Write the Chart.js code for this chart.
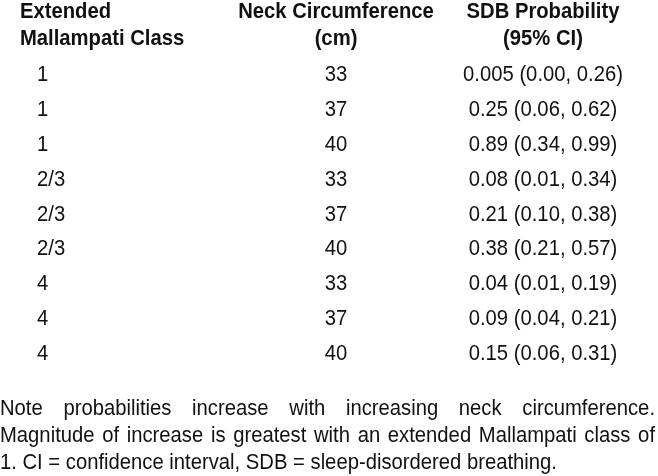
<!DOCTYPE html>
<html>
<head>
<meta charset="utf-8">
<script src="https://cdn.jsdelivr.net/npm/chart.js@4.4.0/dist/chart.umd.min.js"></script>
<style>
  html, body { margin: 0; padding: 0; background: #fff; }
  #wrap { width: 658px; height: 476px; }
</style>
</head>
<body>
<div id="wrap"><canvas id="myChart" width="658" height="476"></canvas></div>
<script>
// table data
const mallampati = ['1', '1', '1', '2/3', '2/3', '2/3', '4', '4', '4'];
const neckCm = [33, 37, 40, 33, 37, 40, 33, 37, 40];
const sdbProb = [0.005, 0.25, 0.89, 0.08, 0.21, 0.38, 0.04, 0.09, 0.15];
const ciLow = [0.00, 0.06, 0.34, 0.01, 0.10, 0.21, 0.01, 0.04, 0.06];
const ciHigh = [0.26, 0.62, 0.99, 0.34, 0.38, 0.57, 0.19, 0.21, 0.31];

const colHeaders = [
    ['Extended', 'Mallampati Class'],
    ['Neck Circumference', '(cm)'],
    ['SDB Probability', '(95% CI)']
];
const noteLines = [
    'Note probabilities increase with increasing neck circumference.',
    'Magnitude of increase is greatest with an extended Mallampati class of',
    '1. CI = confidence interval, SDB = sleep-disordered breathing.'
];

// layout
const FONT = '"Liberation Sans", Arial, sans-serif';
const SQUEEZE = 0.92;
const INK = '#111';

function fmt(v) {
    return v < 0.01 && v > 0 ? v.toFixed(3) : v.toFixed(2);
}

function putText(ctx, text, x, y, align) {
    ctx.save();
    ctx.translate(x, y);
    ctx.scale(SQUEEZE, 1);
    ctx.textAlign = align;
    ctx.fillText(text, 0, 0);
    ctx.restore();
}

function putJustified(ctx, text, x, y, width) {
    const words = text.split(' ');
    const full = width / SQUEEZE;
    let used = 0;
    words.forEach(w => { used += ctx.measureText(w).width; });
    const gap = (full - used) / (words.length - 1);
    ctx.save();
    ctx.translate(x, y);
    ctx.scale(SQUEEZE, 1);
    ctx.textAlign = 'left';
    let cx = 0;
    words.forEach(w => {
        ctx.fillText(w, cx, 0);
        cx += ctx.measureText(w).width + gap;
    });
    ctx.restore();
}

const tablePlugin = {
    id: 'tableText',
    afterDraw(chart) {
        const ctx = chart.ctx;
        const area = chart.chartArea;
        const yScale = chart.scales.y;
        const W = chart.width;
        const colX = [37, 336, 543];

        ctx.save();
        ctx.fillStyle = INK;
        ctx.textBaseline = 'alphabetic';

        // header
        ctx.font = 'bold 22px ' + FONT;
        putText(ctx, colHeaders[0][0], 20, 18, 'left');
        putText(ctx, colHeaders[0][1], 20, 45, 'left');
        for (let c = 1; c < 3; c++) {
            putText(ctx, colHeaders[c][0], colX[c], 18, 'center');
            putText(ctx, colHeaders[c][1], colX[c], 45, 'center');
        }

        // rows, placed by the category scale
        ctx.font = '22px ' + FONT;
        const meta = chart.getDatasetMeta(0);
        meta.data.forEach((pt, i) => {
            const y = yScale.getPixelForValue(i) + 8;
            putText(ctx, mallampati[i], colX[0], y, 'left');
            putText(ctx, String(neckCm[i]), colX[1], y, 'center');
            putText(ctx, fmt(sdbProb[i]) + ' (' + fmt(ciLow[i]) + ', ' + fmt(ciHigh[i]) + ')', colX[2], y, 'center');
        });

        // note
        const nb = area.bottom + 46;
        putJustified(ctx, noteLines[0], 0, nb, W - 3);
        putJustified(ctx, noteLines[1], 0, nb + 27, W - 3);
        putText(ctx, noteLines[2], 0, nb + 54, 'left');
        ctx.restore();
    }
};

const rowKeys = mallampati.map((m, i) => 'r' + i);

const ctx = document.getElementById('myChart').getContext('2d');
const myChart = new Chart(ctx, {
    type: 'scatter',
    data: {
        datasets: [{
            label: 'SDB Probability',
            data: sdbProb.map((p, i) => ({ x: p, y: rowKeys[i] })),
            pointRadius: 0,
            showLine: false
        }]
    },
    options: {
        responsive: false,
        animation: false,
        devicePixelRatio: 1,
        layout: { padding: { top: 56, bottom: 107, left: 0, right: 0 } },
        plugins: { legend: { display: false }, tooltip: { enabled: false } },
        scales: {
            x: { type: 'linear', min: 0, max: 1, display: false },
            y: { type: 'category', labels: rowKeys, offset: true, display: false }
        }
    },
    plugins: [tablePlugin]
});
</script>
</body>
</html>
